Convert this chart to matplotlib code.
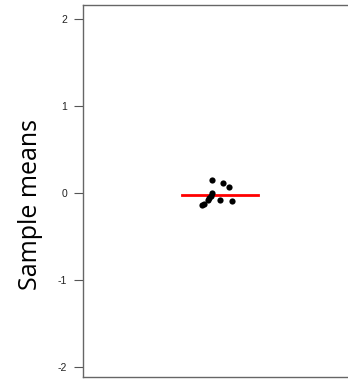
import matplotlib
matplotlib.use("Agg")
import matplotlib.pyplot as plt
import numpy as np

x_vals = [0.942, 1.024, 1.066, 0.942, 0.934, 0.92, 1.0, 1.085, 0.866, 0.883, 0.915]
y_vals = [0.142, 0.115, 0.07, -0.008, -0.035, -0.06, -0.08, -0.10, -0.14, -0.13, -0.085]
mean_val = -0.03
yticks = [-2, -1, 0, 1, 2]

W, H = 348, 382
ax_left, ax_right = 83, 400
ax_w = ax_right - ax_left
fig = plt.figure(figsize=(W/100, H/100), dpi=100)
ax = fig.add_axes([ax_left/W, 5/H, ax_w/W, 372/H])
ppu = 137.0
ax.set_xlim(0, ax_w/ppu)
ax.set_ylim(-2.12, 2.16)

ax.scatter(x_vals, y_vals, s=20, color="black", zorder=3, linewidths=0)
ax.plot([0.72, 1.28], [mean_val, mean_val], color="#ff0000", lw=2, zorder=2)

ax.set_yticks(yticks)
ax.set_yticklabels([str(t) for t in yticks], fontsize=7.5, family="Liberation Sans",
                   color="#222222")
ax.set_xticks([])
ax.tick_params(axis="y", length=6.5, width=0.8, color="#555555", pad=5)
for sp in ax.spines.values():
    sp.set_color("#666666")
    sp.set_linewidth(1.0)
ax.spines["right"].set_visible(False)
ax.set_ylabel("Sample means", fontsize=18, family="Open Sans")
ax.yaxis.set_label_coords((43 - ax_left)/ax_w, (377 - 205)/372)

fig.savefig("out.png", dpi=100)
